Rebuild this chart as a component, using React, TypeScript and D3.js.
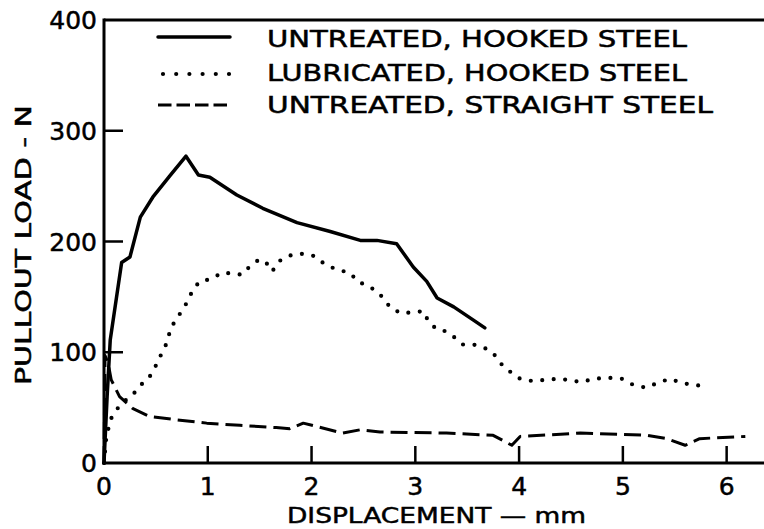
import React from 'react';
import * as d3 from 'd3';

// displacement (mm), pullout load (N)
const untreatedHooked: [number, number][] = [
  [0.0, 0], [0.03, 60], [0.06, 111], [0.17, 181], [0.25, 186], [0.35, 222],
  [0.47, 240], [0.64, 260], [0.79, 277], [0.91, 260], [1.02, 258], [1.28, 242],
  [1.53, 230], [1.86, 217], [2.18, 209], [2.47, 201], [2.63, 201], [2.82, 198],
  [2.98, 177], [3.11, 164], [3.21, 149], [3.37, 141], [3.56, 129], [3.67, 122],
];

const lubricatedHooked: [number, number][] = [
  [0.0, 0], [0.02, 21], [0.06, 39], [0.15, 52], [0.3, 64], [0.38, 73], [0.44, 78],
  [0.49, 86], [0.54, 96], [0.59, 105], [0.65, 123], [0.7, 130], [0.8, 145],
  [0.85, 155], [0.92, 164], [1.03, 166], [1.14, 172], [1.24, 171], [1.33, 170],
  [1.41, 178], [1.5, 184], [1.57, 180], [1.62, 173], [1.7, 183], [1.81, 188],
  [1.92, 189], [2.02, 187], [2.09, 182], [2.18, 177], [2.28, 174], [2.38, 171],
  [2.44, 164], [2.54, 160], [2.63, 155], [2.7, 148], [2.76, 140], [2.87, 135],
  [2.96, 136], [3.08, 137], [3.12, 129], [3.2, 121], [3.29, 119], [3.37, 114],
  [3.46, 107], [3.56, 107], [3.69, 103], [3.77, 97], [3.84, 88], [3.92, 82],
  [4.01, 76], [4.13, 74], [4.25, 75], [4.37, 76], [4.48, 75], [4.6, 73],
  [4.72, 76], [4.85, 77], [4.99, 76], [5.09, 71], [5.22, 68], [5.33, 72],
  [5.45, 76], [5.58, 72], [5.73, 70],
];

const untreatedStraight: [number, number][] = [
  [0.0, 0], [0.01, 97], [0.04, 90], [0.07, 75], [0.15, 60], [0.28, 49],
  [0.44, 42], [0.7, 39], [0.99, 36], [1.31, 34], [1.66, 32], [1.79, 31],
  [1.92, 36], [2.3, 27], [2.47, 30], [2.66, 28], [3.3, 27], [3.75, 25],
  [3.93, 16], [4.01, 24], [4.59, 27], [5.23, 25], [5.42, 22], [5.6, 16],
  [5.74, 22], [6.18, 24],
];

const xTicks = [0, 1, 2, 3, 4, 5, 6];
const yTicks = [0, 100, 200, 300, 400];
const legendLabels = [
  'UNTREATED, HOOKED STEEL',
  'LUBRICATED, HOOKED STEEL',
  'UNTREATED, STRAIGHT STEEL',
];

const W = 764;
const H = 529;
const font = '"DejaVu Sans", sans-serif';

const x = d3.scaleLinear().domain([0, 6.36]).range([104, 764]);
const y = d3.scaleLinear().domain([0, 400]).range([463, 20]);

const line = d3
  .line<[number, number]>()
  .x((d) => x(d[0]))
  .y((d) => y(d[1]));

const styles = [
  { dash: undefined, width: 3.5, cap: 'round' },
  { dash: '0 11.5', width: 4.2, cap: 'round' },
  { dash: '17 7', width: 3, cap: 'butt' },
];

const series = [untreatedHooked, lubricatedHooked, untreatedStraight];

const legendY = [37, 74, 105];
const legendBase = [46.5, 80.5, 113];
const legendWidth = [420, 420, 446];

export default function App() {
  return (
    <svg
      width={W}
      height={H}
      style={{ position: 'absolute', left: 0, top: 0, background: '#fff' }}
    >
      {/* frame: left axis, bottom axis, top line */}
      <g stroke="#000" strokeWidth={3} fill="none">
        <line x1={x(0)} x2={x(0)} y1={y(0) + 1.5} y2={y(400) - 1.5} />
        <line x1={x(0)} x2={W} y1={y(0)} y2={y(0)} />
        <line x1={x(0)} x2={W} y1={y(400)} y2={y(400)} />
      </g>

      {/* ticks */}
      <g stroke="#000" strokeWidth={2.5}>
        {xTicks.slice(1).map((t) => (
          <line key={t} x1={x(t)} x2={x(t)} y1={y(0)} y2={y(0) - 17} />
        ))}
        {yTicks.slice(1, -1).map((t) => (
          <line key={t} x1={x(0)} x2={x(0) + 19} y1={y(t)} y2={y(t)} />
        ))}
      </g>

      <g fontFamily={font} fontSize={25} fill="#000" stroke="#000" strokeWidth={0.5}>
        {xTicks.map((t) => (
          <text key={t} x={x(t)} y={495} textAnchor="middle">
            {t}
          </text>
        ))}
        {yTicks.map((t) => (
          <text key={t} x={97} y={y(t) + 9} textAnchor="end">
            {t}
          </text>
        ))}
      </g>

      {/* axis titles */}
      <g fontFamily={font} fontSize={22} fill="#000" stroke="#000" strokeWidth={0.5}>
        <text x={287} y={523} textLength={299} lengthAdjust="spacingAndGlyphs">
          DISPLACEMENT — mm
        </text>
        <text
          transform="translate(31,245) rotate(-90)"
          textAnchor="middle"
          textLength={280}
          lengthAdjust="spacingAndGlyphs"
        >
          PULLOUT LOAD - N
        </text>
      </g>

      {/* curves */}
      {series.map((s, i) => (
        <path
          key={i}
          d={line(s) ?? ''}
          fill="none"
          stroke="#000"
          strokeWidth={styles[i].width}
          strokeDasharray={styles[i].dash}
          strokeLinecap={styles[i].cap as any}
          strokeLinejoin="round"
        />
      ))}

      {/* legend */}
      {legendLabels.map((label, i) => (
        <g key={label}>
          <line
            x1={i === 1 ? 163 : 158}
            x2={230}
            y1={legendY[i]}
            y2={legendY[i]}
            stroke="#000"
            strokeWidth={styles[i].width}
            strokeDasharray={i === 1 ? '0 13.2' : i === 2 ? '13.5 5' : undefined}
            strokeLinecap={styles[i].cap as any}
          />
          <text
            x={267}
            y={legendBase[i]}
            fontFamily={font}
            fontSize={22.5}
            fill="#000"
            stroke="#000"
            strokeWidth={0.5}
            textLength={legendWidth[i]}
            lengthAdjust="spacingAndGlyphs"
          >
            {label}
          </text>
        </g>
      ))}
    </svg>
  );
}
